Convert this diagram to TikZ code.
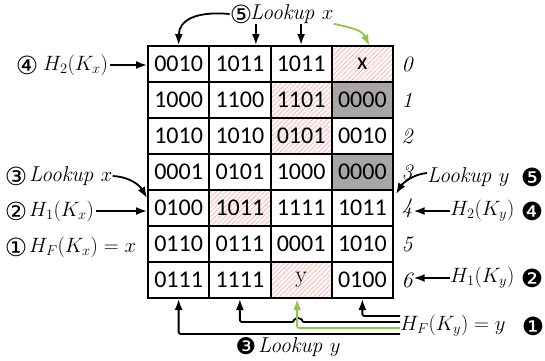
\documentclass[tikz,border=0pt]{standalone}
\usepackage{fontspec}
\newfontfamily\cellfont{Carlito}
\newfontfamily\circfont{DejaVu Sans}
\usetikzlibrary{patterns.meta,arrows.meta}

\definecolor{hatchred}{RGB}{242,178,178}
\definecolor{cellgray}{RGB}{166,166,166}
\definecolor{lgreen}{RGB}{140,200,70}
\newcommand\serify{\rmfamily y}

\tikzset{
  cell/.style={draw=black, line width=2pt, minimum width=61.25pt,
    minimum height=36pt, inner sep=0pt,
    font=\cellfont\fontsize{24}{24}\selectfont},
  plaincell/.style={fill=white},
  hatchcell/.style={preaction={fill=red!3},
    pattern={Lines[angle=45,distance=3.4pt,line width=0.6pt]},
    pattern color=hatchred},
  graycell/.style={fill=cellgray},
  lab/.style={inner sep=0pt, font=\fontsize{21.5}{21.5}\selectfont},
  circ/.style={inner sep=0pt, font=\circfont\fontsize{25}{25}\selectfont},
  idx/.style={inner sep=0pt, font=\fontsize{22}{22}\selectfont\itshape},
  arr/.style={line width=1.8pt, -{Latex[length=11pt,width=8pt]}},
}

\begin{document}
\begin{tikzpicture}[x=1pt,y=-1pt]
\useasboundingbox (0,0) rectangle (545,360);

% the table of fingerprints
\foreach \cells [count=\r from 0] in {
  {0010/plaincell,1011/plaincell,1011/plaincell,x/hatchcell},
  {1000/plaincell,1100/plaincell,1101/hatchcell,0000/graycell},
  {1010/plaincell,1010/plaincell,0101/hatchcell,0010/plaincell},
  {0001/plaincell,0101/plaincell,1000/plaincell,0000/graycell},
  {0100/plaincell,1011/hatchcell,1111/plaincell,1011/plaincell},
  {0110/plaincell,0111/plaincell,0001/plaincell,1010/plaincell},
  {0111/plaincell,1111/plaincell,\serify/hatchcell,0100/plaincell}}{
  \foreach \v/\s [count=\c from 0] in \cells {
    \node[cell,\s] (c\r\c) at ({148+61.25*(\c+0.5)},{46+36*(\r+0.5)}) {\v};
  }
}

% bucket indices
\foreach \i in {0,...,6}
  \node[idx] (r\i) at (407,{64+36*\i}) {\i};

% step 5 for x (top)
\node[circ] (n5x) at (241,14) {⑤};
\node[lab, anchor=west] (lkx5) at (250,14) {\itshape Lookup $x$};
\draw[arr] (n5x.west) .. controls (196,11) and (179,20) .. (c00.north);
\draw[arr] ([xshift=16pt]c01.north |- lkx5.south) -- ([xshift=16pt]c01.north);
\draw[arr] (c02.north |- lkx5.south) -- (c02.north);
\draw[arr, lgreen] (lkx5.south east) .. controls (352,28) and (362,30) .. ([xshift=7pt]c03.north);

% steps for x (left)
\node[circ] (n4x) at (27,65) {④};
\node[lab, anchor=west] (h2x) at (43,65) {$H_2(K_x)$};
\draw[arr, shorten <=2pt] (h2x.east) -- (h2x.east -| c00.west);

\node[circ] (n3x) at (16,176) {③};
\node[lab, anchor=west] (lkx3) at (29,176) {\itshape Lookup $x$};
\draw[arr] (lkx3.east) .. controls (131,177) and (140,186) .. ([yshift=-9pt]c40.north west);

\node[circ] (n2x) at (16,211) {②};
\node[lab, anchor=west] (h1x) at (29,211) {$H_1(K_x)$};
\draw[arr, shorten <=2pt] (h1x.east) -- (h1x.east -| c40.west);

\node[circ] (n1x) at (16,247) {①};
\node[lab, anchor=west] (hfx) at (29,247) {$H_F(K_x)=x$};

% steps for y (right)
\node[lab, anchor=west] (lky5) at (427,177) {\itshape Lookup $y$};
\node[circ] (n5y) at (532,177) {❺};
\draw[arr] ([yshift=4pt]lky5.west) .. controls (413,174) and (402,184) .. ([xshift=2pt,yshift=-5pt]c43.north east);

\node[lab, anchor=west] (h2y) at (450,211) {$H_2(K_y)$};
\node[circ] (n4y) at (532,211) {❹};
\draw[arr, shorten >=1pt] (h2y.west) -- (h2y.west -| r4.east);

\node[lab, anchor=west] (h1y) at (450,278) {$H_1(K_y)$};
\node[circ] (n2y) at (532,278) {❷};
\draw[arr, shorten >=1pt] (h1y.west) -- (h1y.west -| r6.east);

\node[lab, anchor=west] (hfy) at (400,326) {$H_F(K_y)=y$};
\node[circ] (n1y) at (533,326) {❶};

% step 3 for y (bottom)
\draw[arr, rounded corners=2pt] ([yshift=10pt]hfy.west) -| (c63.south);
\draw[arr, rounded corners=2pt] ([yshift=4pt]hfy.west) -- (302,322)
  arc[start angle=0, end angle=-180, radius=4] -| (c61.south);
\draw[arr, lgreen, rounded corners=2pt] ([yshift=-2pt]hfy.west) -| ([xshift=-4pt]c62.south);
\draw[arr, rounded corners=2pt] ([yshift=-8pt]hfy.west) -| (c60.south);

\node[circ, font=\circfont\fontsize{23}{23}\selectfont] (n3y) at (246,346) {❸};
\node[lab, anchor=west] (lky3) at (258,347) {\itshape Lookup $y$};
\end{tikzpicture}
\end{document}
